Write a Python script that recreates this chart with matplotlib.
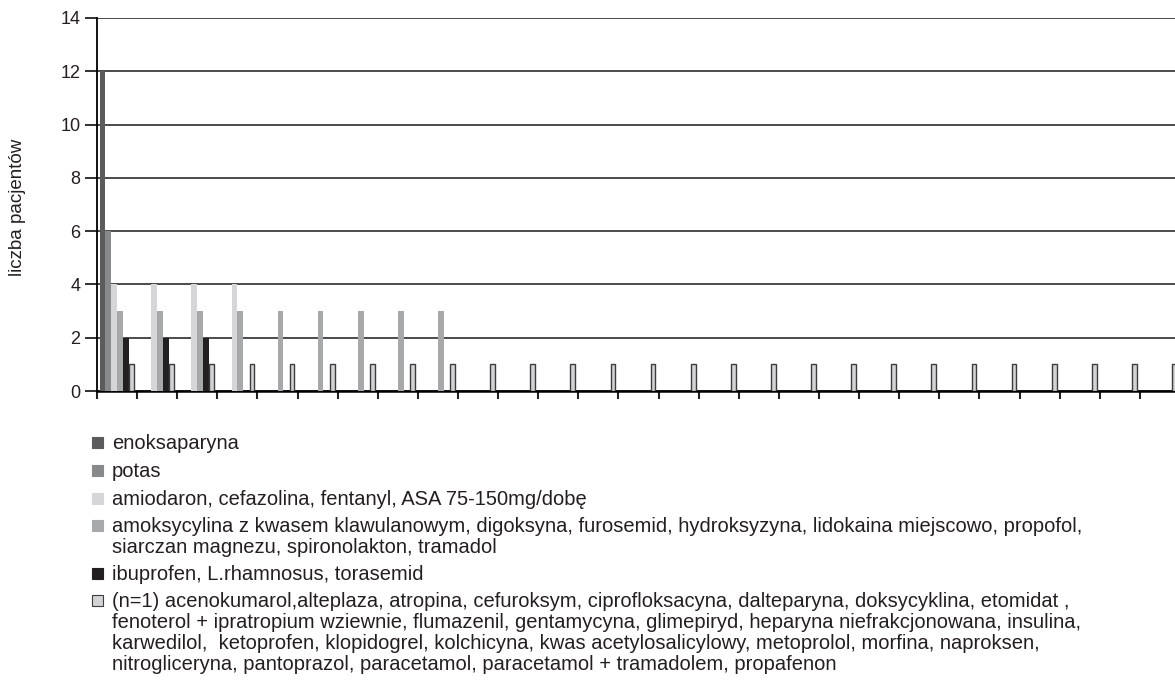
import matplotlib.pyplot as plt
from matplotlib.patches import Rectangle

plt.rcParams['font.family'] = ['Liberation Sans', 'DejaVu Sans']

# number of patients per drug group, one value per category slot
enoksaparyna = [12]
potas = [6]
amiodaron = [4, 4, 4, 4]
amoksycylina = [3, 3, 3, 3, 3, 3, 3, 3, 3]
ibuprofen = [2, 2, 2]
n1_group = [1, 1, 1, 1, 1, 1, 1, 1, 1, 1, 1, 1, 1, 1, 1, 1, 1, 1, 1, 1, 1, 1, 1, 1, 1, 1, 1]

labels = [
    ["enoksaparyna"],
    ["potas"],
    ["amiodaron, cefazolina, fentanyl, ASA 75-150mg/dobę"],
    ["amoksycylina z kwasem klawulanowym, digoksyna, furosemid, hydroksyzyna, lidokaina miejscowo, propofol,",
     "siarczan magnezu, spironolakton, tramadol"],
    ["ibuprofen, L.rhamnosus, torasemid"],
    ["(n=1) acenokumarol,alteplaza, atropina, cefuroksym, ciprofloksacyna, dalteparyna, doksycyklina, etomidat ,",
     "fenoterol + ipratropium wziewnie, flumazenil, gentamycyna, glimepiryd, heparyna niefrakcjonowana, insulina,",
     "karwedilol,  ketoprofen, klopidogrel, kolchicyna, kwas acetylosalicylowy, metoprolol, morfina, naproksen,",
     "nitrogliceryna, pantoprazol, paracetamol, paracetamol + tramadolem, propafenon"],
]
ylabel = "liczba pacjentów"

series = [enoksaparyna, potas, amiodaron, amoksycylina, ibuprofen, n1_group]
colors = ['#5b5b5d', '#88898b', '#d6d6d8', '#a7a8aa', '#231f20', '#d3d3d5']
edges = [None, None, None, None, None, '#3c3c3c']
n_cat = len(n1_group)

W, H = 1175, 697
fig = plt.figure(figsize=(W / 100, H / 100), dpi=100)
ax = fig.add_axes([97 / W, 1 - 391 / H, 1083 / W, 373 / H])

bw = 0.145
start = 0.065
for k, (vals, c, e) in enumerate(zip(series, colors, edges)):
    xs = [i + start + k * bw + bw / 2 for i in range(len(vals))]
    if e:
        ax.bar(xs, vals, width=bw * 0.82, color=c, edgecolor=e, linewidth=1.0, zorder=3)
    else:
        ax.bar(xs, vals, width=bw, color=c, linewidth=0, zorder=3)

ax.set_xlim(0, n_cat)
ax.set_ylim(0, 14)
ax.set_yticks(range(0, 15, 2))
ax.set_xticks(range(0, n_cat + 1))
ax.set_xticklabels([])
ax.yaxis.grid(True, color='#1a1a1a', linewidth=1.1)
ax.set_axisbelow(True)
for s in ['top', 'right']:
    ax.spines[s].set_visible(False)
ax.spines['left'].set_linewidth(1.3)
ax.spines['bottom'].set_linewidth(1.8)
ax.tick_params(axis='y', length=9, width=1.3, labelsize=13, pad=3, colors='#231f20')
ax.tick_params(axis='x', length=6, width=1.5, colors='#231f20')
fig.text(18 / W, 1 - 207 / H, ylabel, rotation=90, ha='center', va='center',
         fontsize=13.5, color='#231f20')

# legend below the plot: square marker beside the first line of each entry
entry_y = [442, 470, 498, 525, 573, 600]
line_step = 21
for lines, c, e, y in zip(labels, colors, edges, entry_y):
    fig.add_artist(Rectangle((92 / W, 1 - (y + 5.5) / H), 11 / W, 11 / H,
                             transform=fig.transFigure, facecolor=c,
                             edgecolor=e if e else c, linewidth=0.8))
    for j, line in enumerate(lines):
        yb = y + j * line_step + 7
        fig.text(112 / W, 1 - yb / H, line, ha='left', va='baseline',
                 fontsize=14.5, color='#231f20')

fig.savefig('out.png', dpi=100)
